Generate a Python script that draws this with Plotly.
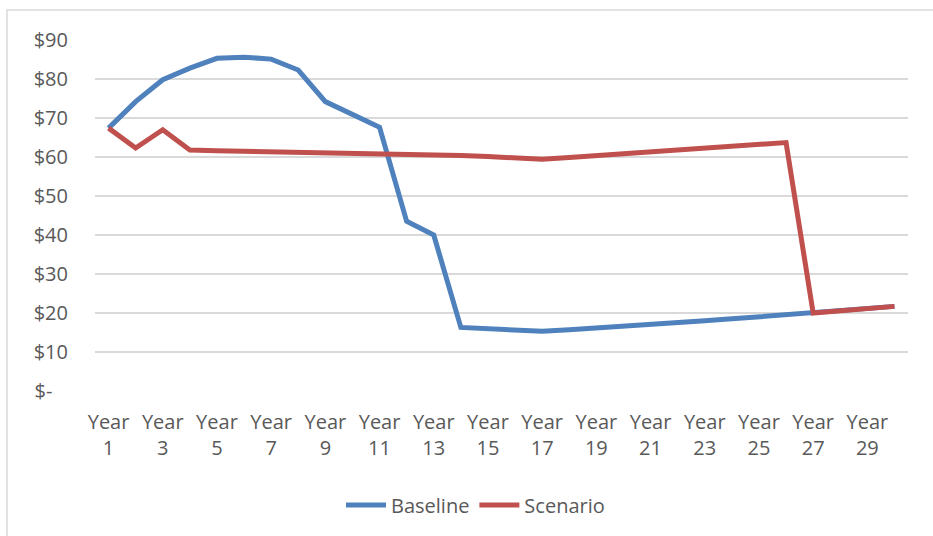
import plotly.graph_objects as go

# Category labels and the two price series (USD)
years = [f"Year {i}" for i in range(1, 31)]
baseline = [67.4, 74.2, 79.8, 82.8, 85.3, 85.6, 85.1, 82.3, 74.2, 71.0,
            67.6, 43.5, 40.0, 16.3, 16.0, 15.7, 15.3, 15.7, 16.1, 16.6,
            17.0, 17.5, 18.0, 18.5, 19.0, 19.5, 20.0, 20.5, 21.1, 21.7]
scenario = [67.4, 62.3, 67.0, 61.8, 61.6, 61.5, 61.4, 61.3, 61.2, 61.1,
            61.0, 60.8, 60.6, 60.4, 60.1, 59.8, 59.4, 59.9, 60.4, 60.9,
            61.4, 61.9, 62.4, 62.9, 63.3, 63.7, 20.0, 20.5, 21.1, 21.7]

# Every other year is labelled, split over two lines
x_tickvals = years[::2]
x_ticktext = [y.replace(" ", "<br>") for y in x_tickvals]
y_tickvals = list(range(0, 100, 10))
y_ticktext = ["$-\u00a0\u00a0\u00a0"] + [f"${v}" for v in y_tickvals[1:]]

font_family = "Open Sans"
text_color = "#595959"
grid_color = "#D9D9D9"

fig = go.Figure()
fig.add_trace(go.Scatter(x=years, y=baseline, name="Baseline", mode="lines",
                         line=dict(color="#4F81BD", width=5)))
fig.add_trace(go.Scatter(x=years, y=scenario, name="Scenario", mode="lines",
                         line=dict(color="#C0504D", width=5)))

fig.update_layout(
    width=933, height=536,
    margin=dict(l=95, r=25, t=40, b=145),
    paper_bgcolor="white", plot_bgcolor="white",
    font=dict(family=font_family, size=20, color=text_color),
    showlegend=True,
    legend=dict(orientation="h", x=0.468, xanchor="center",
                y=-0.325, yanchor="middle",
                font=dict(size=20, color=text_color),
                itemwidth=40, bgcolor="rgba(0,0,0,0)"),
    xaxis=dict(type="category", tickmode="array",
               range=[-0.5, len(years) - 0.5],
               tickvals=x_tickvals, ticktext=x_ticktext,
               showgrid=False, zeroline=False, showline=False,
               ticks="outside", ticklen=13, tickcolor="rgba(0,0,0,0)",
               tickfont=dict(size=20, color=text_color)),
    yaxis=dict(range=[0, 90], tickmode="array",
               tickvals=y_tickvals, ticktext=y_ticktext,
               showgrid=True, gridcolor=grid_color, gridwidth=1.5,
               zeroline=False, showline=False,
               ticks="outside", ticklen=22, tickcolor="rgba(0,0,0,0)",
               tickfont=dict(size=20, color=text_color)),
    shapes=[dict(type="rect", xref="paper", yref="paper",
                 x0=(7 - 95) / 813, x1=1.05, y0=-0.5, y1=(391 - 10) / 351,
                 line=dict(color=grid_color, width=1.5),
                 fillcolor="rgba(0,0,0,0)", layer="below")],
)

fig.write_html("out.html")
